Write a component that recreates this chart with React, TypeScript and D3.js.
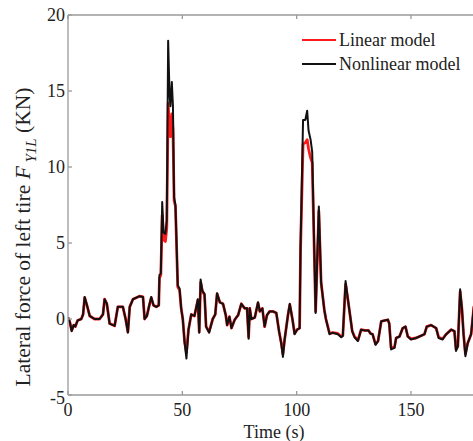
import React from "react";
import * as d3 from "d3";

const timeS: number[] = [
  0, 0.8, 1.6, 2.5, 3.2, 4.2, 5.8, 6.6, 7.3, 8.3, 9.5, 11.6, 13.8, 15.3, 16.0, 17.0, 18.2, 20.4, 21.8, 24.0,
  25.2, 26.2, 27.0, 28.4, 31.3, 32.8, 33.5, 34.5, 35.4, 36.4, 37.4, 38.6, 39.7, 40.0, 40.6, 41.2, 41.8, 42.6, 43.2, 43.8,
  44.4, 44.8, 45.4, 45.9, 46.4, 47.0, 48.0, 48.8, 49.5, 50.2, 51.0, 51.8, 52.7, 53.9, 55.3, 56.0, 56.8, 57.4, 58.0, 58.8,
  59.7, 60.4, 61.7, 63.3, 64.4, 65.2, 66.4, 67.8, 69.0, 69.6, 70.6, 71.5, 72.9, 74.4, 75.8, 77.3, 78.3, 79.0, 79.5, 80.2,
  81.7, 83.1, 83.9, 85.0, 86.0, 87.0, 88.2, 89.6, 91.1, 92.3, 93.3, 94.0, 94.7, 96.2, 97.0, 98.2, 99.1, 100.2, 101.3, 101.7,
  102.0, 102.8, 103.8, 104.6, 105.2, 106.1, 106.8, 108.3, 109.7, 110.7, 112.1, 112.8, 114.4, 115.8, 118.0, 119.5, 120.2, 121.4, 122.4, 123.4,
  124.3, 125.3, 126.8, 128.2, 129.8, 131.4, 132.3, 133.2, 134.5, 135.6, 137.0, 139.9, 140.5, 141.3, 142.8, 143.5, 145.0, 146.4, 147.6, 148.6,
  150.0, 152.2, 153.7, 155.9, 156.9, 158.8, 161.0, 162.1, 163.8, 165.4, 167.6, 169.0, 169.7, 170.5, 171.5, 172.3, 173.0, 173.8, 174.8, 176.3,
  177.5, 179.0,
];

const nonlinearKN: number[] = [
  0.1, -0.2, -0.8, -0.4, -0.5, -0.1, 0.0, 0.3, 1.45, 0.9, 0.2, 0.0, 0.0, 0.3, 1.3, 1.0, -0.3, -0.45, 0.8, 0.8,
  0.0, -0.9, 0.8, 1.3, 1.5, 1.45, 0.0, 0.2, 0.8, 1.45, 0.9, 0.8, 0.9, 2.9, 3.0, 7.7, 5.7, 5.6, 6.5, 18.3,
  14.8, 14.0, 15.6, 14.0, 8.0, 7.5, 2.2, 2.0, 0.7, 0.0, -1.55, -2.6, -0.7, 0.3, 0.2, 0.7, 1.3, -0.9, 2.6, 1.85,
  1.65, -0.5, -0.9, 0.0, 0.3, 1.7, 1.1, 1.0, 0.25, -0.4, 0.15, -0.6, -0.05, 0.25, 1.0, 0.7, 0.7, -1.3, 0.7, 0.0,
  0.1, 1.1, 0.5, 0.7, -0.5, 0.25, 0.5, 0.5, 0.4, -0.8, -1.65, -2.5, -1.4, 0.25, 1.0, -0.05, -1.0, -0.7, -0.6, 4.8,
  6.9, 13.1, 13.1, 13.7, 12.4, 11.8, 11.0, 0.4, 7.4, 2.4, 0.6, 0.0, -1.0, -0.9, -1.0, -1.2, -1.1, 2.5, 1.3, 0.2,
  -0.8, -1.2, -1.45, -0.7, -0.75, -0.75, -0.95, -1.0, -1.7, -1.45, -0.15, -0.05, -0.3, -2.0, -1.9, -1.25, -1.15, -0.6, -0.5, -1.15,
  -1.35, -1.25, -1.15, -1.0, -0.5, -0.4, -0.6, -1.25, -1.35, -1.0, -0.7, -0.8, -2.1, -1.8, 1.95, 0.65, -1.0, -2.45, -1.6, -1.0,
  0.8, 1.0,
];

const linearKN: number[] = [
  0.1, -0.2, -0.75, -0.4, -0.5, -0.1, 0.0, 0.3, 1.4, 0.9, 0.2, 0.0, 0.0, 0.3, 1.3, 1.0, -0.3, -0.45, 0.8, 0.8,
  0.0, -0.85, 0.8, 1.3, 1.5, 1.45, 0.0, 0.2, 0.8, 1.4, 0.9, 0.8, 0.9, 2.7, 2.9, 6.8, 5.2, 5.1, 6.0, 14.2,
  12.5, 12.0, 13.5, 12.5, 7.8, 7.4, 2.1, 1.9, 0.7, 0.0, -1.5, -2.2, -0.7, 0.3, 0.2, 0.7, 1.25, -0.85, 2.4, 1.8,
  1.6, -0.5, -0.85, 0.0, 0.3, 1.65, 1.1, 1.0, 0.25, -0.4, 0.15, -0.6, -0.05, 0.25, 1.0, 0.7, 0.7, -1.2, 0.7, 0.0,
  0.1, 1.05, 0.5, 0.7, -0.5, 0.25, 0.5, 0.5, 0.4, -0.8, -1.6, -2.3, -1.4, 0.25, 0.95, -0.05, -0.95, -0.7, -0.6, 4.5,
  6.5, 11.5, 11.6, 11.8, 11.2, 10.6, 10.3, 0.5, 7.1, 2.4, 0.6, 0.0, -0.95, -0.9, -0.95, -1.15, -1.1, 2.3, 1.3, 0.2,
  -0.8, -1.15, -1.4, -0.7, -0.75, -0.75, -0.95, -1.0, -1.65, -1.45, -0.15, -0.05, -0.3, -1.9, -1.85, -1.25, -1.15, -0.6, -0.5, -1.15,
  -1.3, -1.25, -1.15, -1.0, -0.5, -0.4, -0.6, -1.2, -1.3, -1.0, -0.7, -0.8, -2.0, -1.8, 1.8, 0.65, -1.0, -2.3, -1.6, -1.0,
  0.8, 1.0,
];

const xTicks: number[] = [0, 50, 100, 150, 200];
const xTickLabels: number[] = [0, 50, 100, 150];
const yTicks: number[] = [-5, 0, 5, 10, 15, 20];

const W = 473;
const H = 441;
const left = 68;
const top = 15;
const bottom = 395;
const right = 525.3;
const font = "'Liberation Serif', 'Times New Roman', Times, serif";
const axisColor = "#9a9a9a";

export default function App() {
  const x = d3.scaleLinear().domain([0, 200]).range([left, right]);
  const y = d3.scaleLinear().domain([-5, 20]).range([bottom, top]);
  const line = d3
    .line<number>()
    .x((_, i) => x(timeS[i]))
    .y((d) => y(d))
    .curve(d3.curveLinear);

  return (
    <div style={{ position: "absolute", left: 0, top: 0 }}>
      <svg width={W} height={H} style={{ display: "block", background: "#fff" }}>
        <defs>
          <clipPath id="plotClip">
            <rect x={left} y={top} width={right - left} height={bottom - top} />
          </clipPath>
        </defs>
        <g clipPath="url(#plotClip)">
          <path d={line(linearKN) || ""} fill="none" stroke="#ff1a1a" strokeWidth={2.8} strokeLinejoin="round" />
          <path d={line(nonlinearKN) || ""} fill="none" stroke="#111" strokeWidth={2} strokeLinejoin="round" />
        </g>
        <g stroke={axisColor} strokeWidth={1.3} fill="none">
          <line x1={left} y1={top} x2={right} y2={top} />
          <line x1={left} y1={bottom} x2={right} y2={bottom} />
          <line x1={left} y1={top} x2={left} y2={bottom} />
          <line x1={right} y1={top} x2={right} y2={bottom} />
          {xTicks.map((t) => (
            <g key={"xt" + t}>
              <line x1={x(t)} y1={bottom} x2={x(t)} y2={bottom - 4} />
              <line x1={x(t)} y1={top} x2={x(t)} y2={top + 4} />
            </g>
          ))}
          {yTicks.map((t) => (
            <g key={"yt" + t}>
              <line x1={left} y1={y(t)} x2={left + 4} y2={y(t)} />
            </g>
          ))}
        </g>
        <g fontFamily={font} fontSize={18} fill="#222">
          {xTickLabels.map((t) => (
            <text key={"xl" + t} x={x(t)} y={bottom + 21} textAnchor="middle">
              {t}
            </text>
          ))}
          {yTicks.map((t) => (
            <text key={"yl" + t} x={left - 3} y={y(t) + (t === -5 ? 9 : 6)} textAnchor="end">
              {t}
            </text>
          ))}
          <text x={274} y={438} textAnchor="middle">
            Time (s)
          </text>
          <text transform="translate(30,237) rotate(-90)" textAnchor="middle" fontSize={21.5}>
            Lateral force of left tire{" "}
            <tspan fontStyle="italic">F</tspan>
            <tspan fontStyle="italic" fontSize={15} dy={6}>
              {" "}Y1L
            </tspan>
            <tspan dy={-6}> (KN)</tspan>
          </text>
        </g>
        <g fontFamily={font} fontSize={18} fill="#222">
          <line x1={302} y1={40} x2={336} y2={40} stroke="#ff1a1a" strokeWidth={2} />
          <text x={339} y={46}>Linear model</text>
          <line x1={302} y1={64} x2={336} y2={64} stroke="#111" strokeWidth={2} />
          <text x={339} y={70}>Nonlinear model</text>
        </g>
      </svg>
    </div>
  );
}
